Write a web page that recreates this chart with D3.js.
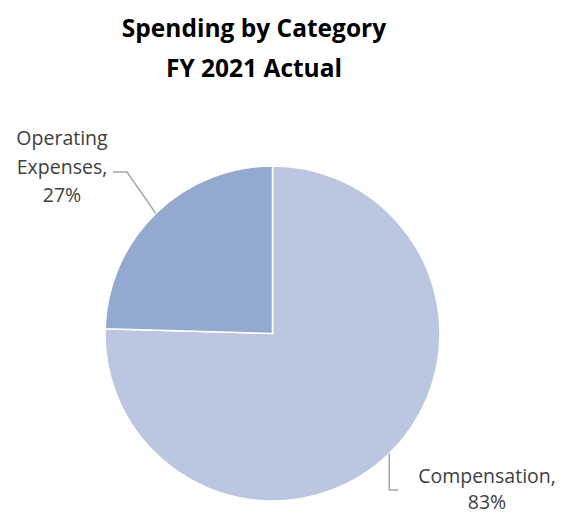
<!DOCTYPE html>
<html><head><meta charset="utf-8">
<script src="https://cdn.jsdelivr.net/npm/d3@7"></script>
<style>body{margin:0;background:#fff}svg{display:block}</style>
</head><body>
<script>
const titleLines = ["Spending by Category", "FY 2021 Actual"];
const categories = ["Compensation", "Operating Expenses"];
const values = [83, 27];
const labelLines = [["Compensation,", "83%"], ["Operating", "Expenses,", "27%"]];
const colors = ["#BBC7E0", "#94A9CF"];

const W = 563, H = 512;
const cx = 272.5, cy = 333.5, R = 167.5;
const font = "'Open Sans', 'DejaVu Sans', sans-serif";

const svg = d3.select("body").append("svg").attr("width", W).attr("height", H);

svg.append("g").selectAll("text").data(titleLines).join("text")
  .attr("x", 254).attr("y", (d, i) => 37 + i * 40)
  .attr("text-anchor", "middle").attr("font-family", font)
  .attr("font-weight", "bold").attr("font-size", 24.5).attr("fill", "#000")
  .text(d => d);

const data = categories.map((c, i) => ({ c, v: values[i], i }));
const pie = d3.pie().value(d => d.v).sort(null);
const arcs = pie(data);
const arc = d3.arc().innerRadius(0).outerRadius(R);

const g = svg.append("g").attr("transform", `translate(${cx},${cy})`);
g.selectAll("path").data(arcs).join("path")
  .attr("d", arc).attr("fill", d => colors[d.data.i])
  .attr("stroke", "#fff").attr("stroke-width", 1.5);

function edge(a, r) {
  const m = (a.startAngle + a.endAngle) / 2;
  return [cx + r * Math.sin(m), cy - r * Math.cos(m)];
}

// leader lines
const lineColor = "#A6A6A6";
const p0 = edge(arcs[0], R);
svg.append("polyline")
  .attr("points", [p0, [p0[0], 490], [p0[0] + 9, 490]].map(p => p.join(",")).join(" "))
  .attr("fill", "none").attr("stroke", lineColor).attr("stroke-width", 1.5);
const p1 = edge(arcs[1], R);
svg.append("polyline")
  .attr("points", [p1, [127, 172], [113, 172]].map(p => p.join(",")).join(" "))
  .attr("fill", "none").attr("stroke", lineColor).attr("stroke-width", 1.5);

// labels
const labelPos = [{ x: 487, y: 483, dy: 26 }, { x: 62, y: 145, dy: 28.5 }];
labelLines.forEach((lines, k) => {
  svg.append("g").selectAll("text").data(lines).join("text")
    .attr("x", labelPos[k].x).attr("y", (d, i) => labelPos[k].y + i * labelPos[k].dy)
    .attr("text-anchor", "middle").attr("font-family", font)
    .attr("font-size", 19.5).attr("fill", "#404040")
    .text(d => d);
});
</script>
</body></html>
